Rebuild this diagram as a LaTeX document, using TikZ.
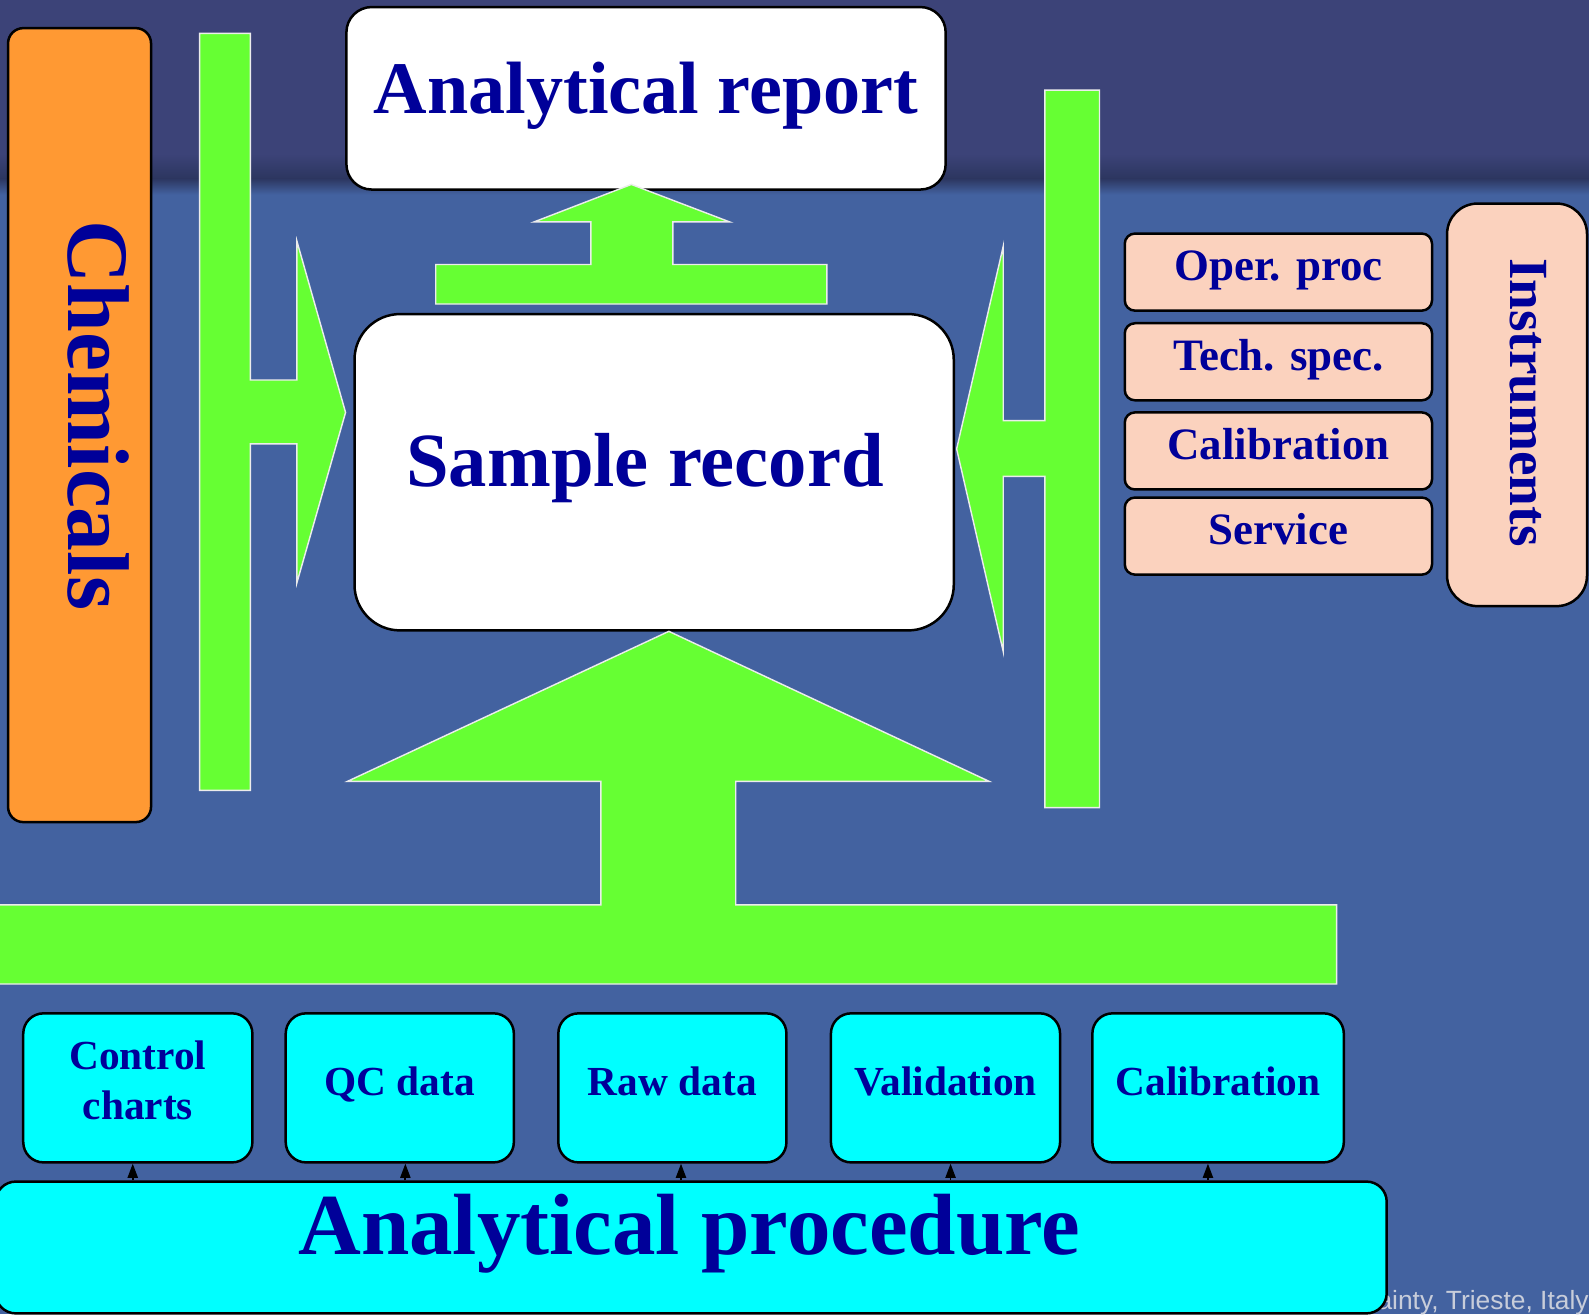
\documentclass[tikz,border=0pt]{standalone}
\usepackage{fontspec}
\setmainfont{Liberation Serif}
\newfontfamily\footfont{Liberation Sans}
\usetikzlibrary{arrows.meta}

\definecolor{navy}{RGB}{0,0,153}
\definecolor{bgtop}{RGB}{60,67,120}
\definecolor{bgband}{RGB}{44,54,96}
\definecolor{bglow}{RGB}{67,98,160}
\definecolor{leaf}{RGB}{102,255,51}
\definecolor{peach}{RGB}{251,210,190}
\definecolor{amber}{RGB}{255,153,51}
\definecolor{aqua}{RGB}{0,255,255}
\definecolor{footgray}{RGB}{200,205,218}

\begin{document}
\begin{tikzpicture}[x=0.01cm, y=-0.01cm,
    panel/.style={draw=black, line width=0.7pt, rounded corners=#1},
    panel/.default=0.2cm,
    ink/.style={text=navy, font=\bfseries\fontsize{#1}{14.2}\selectfont},
    blockarrow/.style={fill=leaf, draw=white!85!gray, line width=0.4pt},
    uptip/.style={-{Triangle[length=0.14cm, width=0.1cm]}, line width=0.5pt}]

    % background
    \useasboundingbox (0,0) rectangle (1568,1297);
    \clip (0,0) rectangle (1568,1297);
    \fill[bgtop] (0,0) rectangle (1568,152);
    \shade[top color=bgtop, bottom color=bgband] (0,152) rectangle (1568,176);
    \shade[top color=bgband, bottom color=bglow] (0,176) rectangle (1568,192);
    \fill[bglow] (0,192) rectangle (1568,1297);

    % chemicals
    \node[panel=0.15cm, fill=amber, minimum width=1.41cm, minimum height=7.83cm]
        (chem) at (78.5,419.5) {};
    \node[ink=24.6, rotate=-90] (chemtext) at (97,410) {Chemicals};

    \draw[blockarrow] (197,33) -- (247,33) -- (247,375) -- (293,375)
        -- (293,238) -- (341,407) -- (293,575) -- (293,438) -- (247,438)
        -- (247,780) -- (197,780) -- cycle;

    % report and sample
    \node[panel=0.25cm, fill=white, minimum width=5.91cm, minimum height=1.8cm, ink=20.8,
        text height=0.52cm, text depth=0.22cm]
        (report) at (637.5,97) {Analytical report};

    \draw[blockarrow] (430,300) -- (816,300) -- (816,261) -- (664,261)
        -- (664,219) -- (720,219) -- (623,182) -- (527,219) -- (583,219)
        -- (583,261) -- (430,261) -- cycle;

    \node[panel=0.45cm, fill=white, minimum width=5.91cm, minimum height=3.12cm, ink=21.5,
        text height=0.53cm, text depth=0.25cm]
        (sample) at (645.5,466) {Sample record\hspace*{0.18cm}};

    % instruments
    \draw[blockarrow] (1031,89) -- (1085,89) -- (1085,797) -- (1031,797)
        -- (1031,470) -- (990,470) -- (990,643) -- (944,443) -- (990,243)
        -- (990,415) -- (1031,415) -- cycle;

    \node[panel=0.1cm, fill=peach, minimum width=3.03cm, minimum height=0.76cm, ink=12.6,
        text height=0.3cm, text depth=0.13cm]
        (oper) at (1261.5,268.5) {Oper. proc};
    \node[panel=0.1cm, fill=peach, minimum width=3.03cm, minimum height=0.76cm, ink=12.6,
        text height=0.3cm, text depth=0.13cm]
        (tech) at (1261.5,357) {Tech. spec.};
    \node[panel=0.1cm, fill=peach, minimum width=3.03cm, minimum height=0.76cm, ink=12.6,
        text height=0.3cm, text depth=0.13cm]
        (instcal) at (1261.5,445) {Calibration};
    \node[panel=0.1cm, fill=peach, minimum width=3.03cm, minimum height=0.76cm, ink=12.6,
        text height=0.3cm, text depth=0.13cm]
        (service) at (1261.5,529) {Service};

    \node[panel=0.3cm, fill=peach, minimum width=1.38cm, minimum height=3.97cm]
        (inst) at (1497,399.5) {};
    \node[ink=15.5, rotate=-90] (insttext) at (1508,397) {Instruments};

    % procedure
    \draw[blockarrow] (-5,971) -- (1319,971) -- (1319,893) -- (726,893)
        -- (726,771) -- (976,771) -- (660,623) -- (343,771) -- (593,771)
        -- (593,893) -- (-5,893) -- cycle;

    \node[panel, fill=aqua, minimum width=2.26cm, minimum height=1.47cm, ink=11.6, align=center,
        text depth=0.15cm]
        (charts) at (136,1073.5) {Control\\charts};
    \node[panel, fill=aqua, minimum width=2.25cm, minimum height=1.47cm, ink=11.6,
        text height=0.35cm, text depth=0.2cm]
        (qc) at (394.5,1073.5) {QC data};
    \node[panel, fill=aqua, minimum width=2.25cm, minimum height=1.47cm, ink=11.6,
        text height=0.35cm, text depth=0.2cm]
        (raw) at (663.5,1073.5) {Raw data};
    \node[panel, fill=aqua, minimum width=2.26cm, minimum height=1.47cm, ink=11.6,
        text height=0.35cm, text depth=0.2cm]
        (valid) at (933,1073.5) {Validation};
    \node[panel, fill=aqua, minimum width=2.48cm, minimum height=1.47cm, ink=11.6,
        text height=0.35cm, text depth=0.2cm]
        (calib) at (1202,1073.5) {Calibration};

    \node[anchor=base east, text=footgray, font=\footfont\fontsize{7.4}{8}\selectfont]
        (foot) at (1580,1292) {ainty, Trieste, Italy};

    \node[panel, fill=aqua, minimum width=13.72cm, minimum height=1.3cm]
        (proc) at (682,1231) {};
    \node[ink=24.4] (proctext) at (680,1217) {Analytical procedure};

    \draw[uptip] ([xshift=-0.05cm]charts.south |- proc.north) -- ([xshift=-0.05cm]charts.south);
    \draw[uptip] ([xshift=0.055cm]qc.south |- proc.north) -- ([xshift=0.055cm]qc.south);
    \draw[uptip] ([xshift=0.085cm]raw.south |- proc.north) -- ([xshift=0.085cm]raw.south);
    \draw[uptip] ([xshift=0.05cm]valid.south |- proc.north) -- ([xshift=0.05cm]valid.south);
    \draw[uptip] ([xshift=-0.1cm]calib.south |- proc.north) -- ([xshift=-0.1cm]calib.south);
\end{tikzpicture}
\end{document}
